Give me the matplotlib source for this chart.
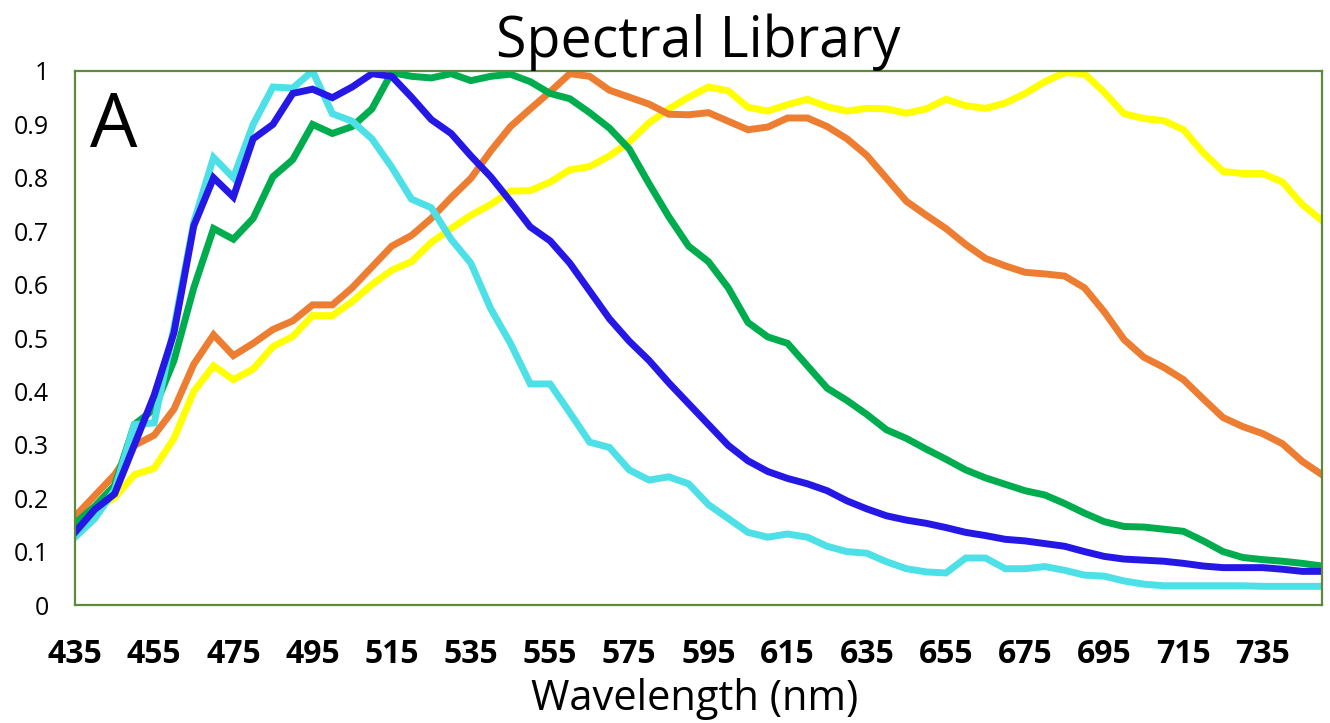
import numpy as np
import matplotlib
matplotlib.use("Agg")
import matplotlib.pyplot as plt

# wavelengths every 5 nm from 435 to 750
wavelength = np.arange(435, 751, 5)

cyan_vals = [0.127, 0.162, 0.215, 0.338, 0.341, 0.52, 0.717, 0.838, 0.80, 0.90,
             0.97, 0.968, 1.0, 0.92, 0.906, 0.873, 0.82, 0.76, 0.744, 0.685,
             0.64, 0.555, 0.49, 0.414, 0.414, 0.36, 0.305, 0.295, 0.253, 0.234,
             0.24, 0.227, 0.188, 0.162, 0.136, 0.127, 0.133, 0.127, 0.11, 0.10,
             0.097, 0.081, 0.068, 0.062, 0.06, 0.088, 0.088, 0.068, 0.068, 0.072,
             0.065, 0.056, 0.054, 0.045, 0.039, 0.036, 0.036, 0.036, 0.036, 0.036,
             0.035, 0.035, 0.035, 0.035]
blue_vals = [0.136, 0.179, 0.208, 0.30, 0.393, 0.51, 0.71, 0.80, 0.764, 0.873,
             0.90, 0.958, 0.966, 0.95, 0.97, 0.995, 0.99, 0.951, 0.909, 0.883,
             0.841, 0.802, 0.756, 0.708, 0.682, 0.64, 0.588, 0.536, 0.494, 0.458,
             0.416, 0.377, 0.338, 0.299, 0.27, 0.25, 0.237, 0.227, 0.214, 0.195,
             0.18, 0.167, 0.159, 0.153, 0.145, 0.136, 0.13, 0.123, 0.12, 0.115,
             0.11, 0.10, 0.091, 0.086, 0.084, 0.082, 0.078, 0.073, 0.07, 0.07,
             0.07, 0.067, 0.063, 0.063]
green_vals = [0.153, 0.185, 0.224, 0.338, 0.367, 0.458, 0.594, 0.705, 0.685, 0.724,
              0.802, 0.834, 0.90, 0.883, 0.896, 0.929, 0.997, 0.99, 0.987, 0.995,
              0.982, 0.99, 0.994, 0.98, 0.958, 0.948, 0.922, 0.893, 0.854, 0.789,
              0.727, 0.672, 0.643, 0.594, 0.529, 0.502, 0.49, 0.448, 0.406, 0.383,
              0.357, 0.328, 0.312, 0.292, 0.273, 0.253, 0.238, 0.226, 0.214, 0.206,
              0.19, 0.172, 0.156, 0.147, 0.146, 0.142, 0.138, 0.12, 0.10, 0.089,
              0.085, 0.082, 0.078, 0.073]
orange_vals = [0.166, 0.205, 0.244, 0.299, 0.318, 0.367, 0.451, 0.506, 0.467, 0.49,
               0.516, 0.532, 0.562, 0.562, 0.594, 0.633, 0.672, 0.692, 0.724, 0.763,
               0.799, 0.85, 0.896, 0.929, 0.961, 0.995, 0.99, 0.964, 0.951, 0.938,
               0.919, 0.918, 0.922, 0.906, 0.89, 0.895, 0.912, 0.912, 0.896, 0.873,
               0.842, 0.799, 0.756, 0.73, 0.705, 0.675, 0.649, 0.635, 0.623, 0.62,
               0.616, 0.594, 0.549, 0.497, 0.464, 0.445, 0.422, 0.386, 0.351, 0.334,
               0.321, 0.302, 0.269, 0.244]
yellow_vals = [0.153, 0.179, 0.201, 0.244, 0.256, 0.312, 0.40, 0.448, 0.422, 0.442,
               0.484, 0.503, 0.542, 0.542, 0.568, 0.60, 0.627, 0.643, 0.679, 0.705,
               0.73, 0.75, 0.775, 0.776, 0.792, 0.815, 0.821, 0.841, 0.867, 0.903,
               0.929, 0.951, 0.97, 0.963, 0.932, 0.925, 0.937, 0.947, 0.933, 0.925,
               0.93, 0.929, 0.921, 0.929, 0.947, 0.935, 0.93, 0.94, 0.958, 0.98,
               0.997, 0.995, 0.96, 0.92, 0.911, 0.907, 0.89, 0.847, 0.812, 0.808,
               0.808, 0.792, 0.75, 0.72]

series = [
    (yellow_vals, "#FFFF00"),
    (orange_vals, "#ED7D31"),
    (green_vals, "#00AD4E"),
    (cyan_vals, "#4DE0E6"),
    (blue_vals, "#2518E6"),
]

x_labels = np.arange(435, 736, 20)
frame_color = "#5E8A3A"

fig = plt.figure(figsize=(13.3, 7.23), dpi=100)
ax = fig.add_axes([0.0564, 0.1632, 0.9376, 0.7386])

for vals, col in series:
    ax.plot(wavelength, vals, color=col, lw=5, solid_joinstyle="miter")

ax.set_xlim(435, 750)
ax.set_ylim(0, 1)

ax.set_yticks(np.arange(0, 1.01, 0.1))
ax.set_yticklabels(["0", "0.1", "0.2", "0.3", "0.4", "0.5", "0.6", "0.7", "0.8", "0.9", "1"],
                   fontsize=18, family="Open Sans")
ax.tick_params(axis="y", length=0, pad=19)

ax.set_xticks(x_labels)
ax.set_xticklabels([str(v) for v in x_labels], fontsize=23, fontweight="bold", family="Open Sans")
ax.set_xticks([435, 535, 635, 735], minor=True)
ax.tick_params(axis="x", which="major", length=0, pad=24)
ax.tick_params(axis="x", which="minor", length=8, width=1.5, color=frame_color, direction="out")

for s in ax.spines.values():
    s.set_color(frame_color)
    s.set_linewidth(1.6)

fig.text(0.5226, 1 - 710 / 723, "Wavelength (nm)", fontsize=30, family="Open Sans",
         ha="center", va="baseline")
ax.set_title("Spectral Library", fontsize=40, family="Open Sans", pad=0)

ax.text(0.012, 0.965, "A", transform=ax.transAxes, fontsize=54, family="Open Sans",
        va="top", ha="left")

fig.savefig("out.png", dpi=100)
